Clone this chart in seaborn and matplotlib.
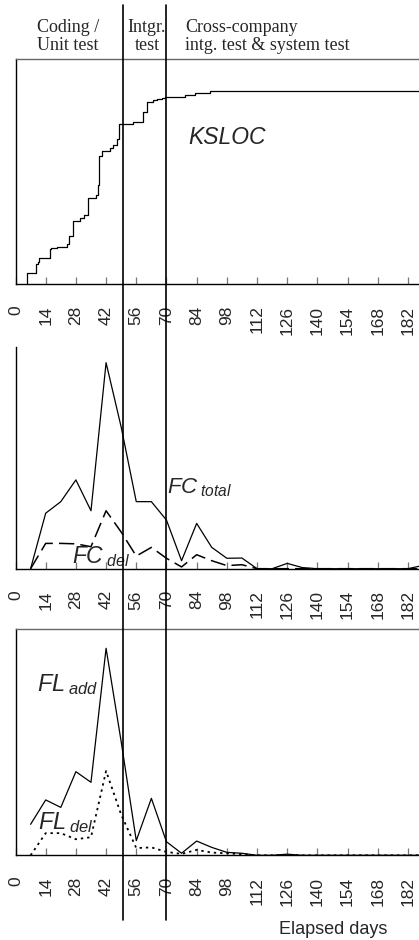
import matplotlib
matplotlib.use("Agg")
import matplotlib.pyplot as plt
import seaborn as sns
import pandas as pd
from matplotlib.lines import Line2D
from matplotlib.transforms import blended_transform_factory

# ---------------- data ----------------
ksloc_days = [5.2, 5.2, 9.4, 10.3, 10.9, 16.0, 16.4, 19.4, 23.7, 24.8, 26.8, 29.9,
              31.9, 33.8, 37.3, 38.1, 38.7, 40.2, 43.8, 45.0, 46.9, 48.0, 54.6,
              59.0, 60.8, 63.9, 65.7, 67.7, 69.3, 78.6, 83.2, 90.2, 187.0]
ksloc_vals = [0.0, 4.7, 8.9, 9.9, 11.7, 15.4, 15.9, 16.6, 17.6, 21.3, 28.2, 29.2,
              30.5, 38.1, 39.6, 44.0, 56.9, 59.2, 60.3, 61.8, 64.3, 71.0, 71.9,
              76.3, 81.0, 81.9, 82.2, 82.8, 83.2, 84.0, 84.7, 85.9, 85.9]

week_days = [7, 14, 21, 28, 35, 42, 49, 56, 63, 70, 77, 84, 91, 98, 105, 112,
             119, 126, 133, 140, 147, 154, 161, 168, 175, 182, 189]
fc_total = [0.0, 25.0, 30.2, 40.0, 26.1, 92.8, 63.8, 30.2, 30.2, 21.9, 3.6, 20.4,
            9.6, 4.7, 4.8, 0.0, 0.0, 2.4, 0.5, 0.0, 0.0, 0.0, 0.0, 0.0, 0.0, 0.0, 1.5]
fc_del = [0.0, 11.4, 11.4, 11.2, 9.9, 26.1, 16.5, 5.7, 9.6, 4.7, 0.8, 6.3,
          3.6, 1.4, 1.8, 0.0, 0.0, 0.0, 0.0, 0.0, 0.0, 0.0, 0.0, 0.0, 0.0, 0.0, 0.0]
fl_add = [13.7, 24.5, 21.2, 37.0, 32.3, 91.6, 50.3, 6.5, 25.2, 6.0, 0.9, 6.3,
          3.5, 1.3, 0.9, 0.0, 0.0, 0.5, 0.0, 0.0, 0.0, 0.0, 0.0, 0.0, 0.0, 0.0, 0.0]
fl_del = [0.0, 9.8, 9.8, 7.1, 8.0, 37.3, 18.0, 3.2, 3.5, 1.5, 0.6, 2.4,
          1.2, 0.9, 0.5, 0.0, 0.0, 0.0, 0.0, 0.0, 0.0, 0.0, 0.0, 0.0, 0.0, 0.0, 0.0]

tick_days = list(range(0, 183, 14))
phase_days = [50, 70]

# ---------------- style ----------------
sns.set_style("white")
plt.rcParams["font.family"] = ["Liberation Sans", "DejaVu Sans"]
plt.rcParams["mathtext.fontset"] = "custom"
plt.rcParams["mathtext.it"] = "Liberation Sans:italic"
plt.rcParams["mathtext.rm"] = "Liberation Sans"

W, H = 419, 940
fig = plt.figure(figsize=(W / 100, H / 100), dpi=100)


def frac_y(px):
    return 1 - px / H


x0 = 15.5 / W
wd = 1.0 - x0
panels = [(59, 284), (346.7, 568.7), (629.3, 855.3)]
axes = []
for top, bot in panels:
    ax = fig.add_axes([x0, frac_y(bot), wd, (bot - top) / H])
    axes.append(ax)

ax_k, ax_fc, ax_fl = axes

lw = 0.9
sns.lineplot(x=ksloc_days, y=ksloc_vals, ax=ax_k, color="black", linewidth=lw,
             drawstyle="steps-post", estimator=None, sort=False)

df = pd.DataFrame({"day": week_days, "fc_total": fc_total, "fc_del": fc_del,
                   "fl_add": fl_add, "fl_del": fl_del})
sns.lineplot(data=df, x="day", y="fc_total", ax=ax_fc, color="black", linewidth=lw)
sns.lineplot(data=df, x="day", y="fc_del", ax=ax_fc, color="black", linewidth=1.1,
             linestyle=(0, (10, 4)))
sns.lineplot(data=df, x="day", y="fl_add", ax=ax_fl, color="black", linewidth=lw)
sns.lineplot(data=df, x="day", y="fl_del", ax=ax_fl, color="black", linewidth=1.3,
             linestyle=(0, (1.3, 2.2)))

for i, ax in enumerate(axes):
    ax.set_xlim(0, 187.1)
    ax.set_ylim(0, 100)
    ax.set_xticks(tick_days)
    ax.set_xticklabels([str(t) for t in tick_days])
    ax.set_yticks([])
    ax.set_xlabel("")
    ax.set_ylabel("")
    ax.tick_params(axis="x", direction="in", length=5, width=0.9, color="#777777",
                   labelsize=12.5, labelrotation=90, pad=15.5, bottom=True)
    for lab in ax.get_xticklabels():
        lab.set_va("top")
    ax.spines["right"].set_visible(False)
    ax.spines["left"].set_color("black")
    ax.spines["left"].set_linewidth(1.0)
    ax.spines["bottom"].set_color("black")
    ax.spines["bottom"].set_linewidth(1.0)
    ax.spines["top"].set_color("#666666")
    ax.spines["top"].set_linewidth(1.0)
    ax.patch.set_alpha(0)

ax_fc.spines["top"].set_visible(False)

# labels inside panels
ax_k.text(80, 65.3, "KSLOC", fontsize=16.5, style="italic", ha="left", va="center")
ax_fc.text(70.1, 34.1, r"$FC_{\;total}$", fontsize=16, ha="left", va="baseline")
ax_fc.text(26.3, 2.4, r"$FC_{\;del}$", fontsize=16.5, ha="left", va="baseline")
ax_fl.text(9.8, 72.8, r"$FL_{\;add}$", fontsize=17, ha="left", va="baseline")
ax_fl.text(10.3, 11.5, r"$FL_{\;del}$", fontsize=17, ha="left", va="baseline")

# phase header
serif = ["Liberation Serif", "DejaVu Serif"]
fig.text(68 / W, frac_y(36.5), "Coding /\nUnit test", family=serif, fontsize=13,
         ha="center", va="center", multialignment="center", linespacing=1.15)
fig.text(147 / W, frac_y(36.5), "Intgr.\ntest", family=serif, fontsize=13,
         ha="center", va="center", multialignment="center", linespacing=1.15)
fig.text(185 / W, frac_y(36.5), "Cross-company\nintg. test & system test",
         family=serif, fontsize=13, ha="left", va="center",
         multialignment="left", linespacing=1.15)

fig.text(332.7 / W, frac_y(929), "Elapsed days", fontsize=13, ha="center", va="center")

# phase boundary lines spanning all panels
tr = blended_transform_factory(ax_k.transData, fig.transFigure)
for d in phase_days:
    fig.add_artist(Line2D([d, d], [frac_y(920), frac_y(5)], transform=tr,
                          color="black", linewidth=1.2, zorder=10))

fig.savefig("out.png", dpi=100)
